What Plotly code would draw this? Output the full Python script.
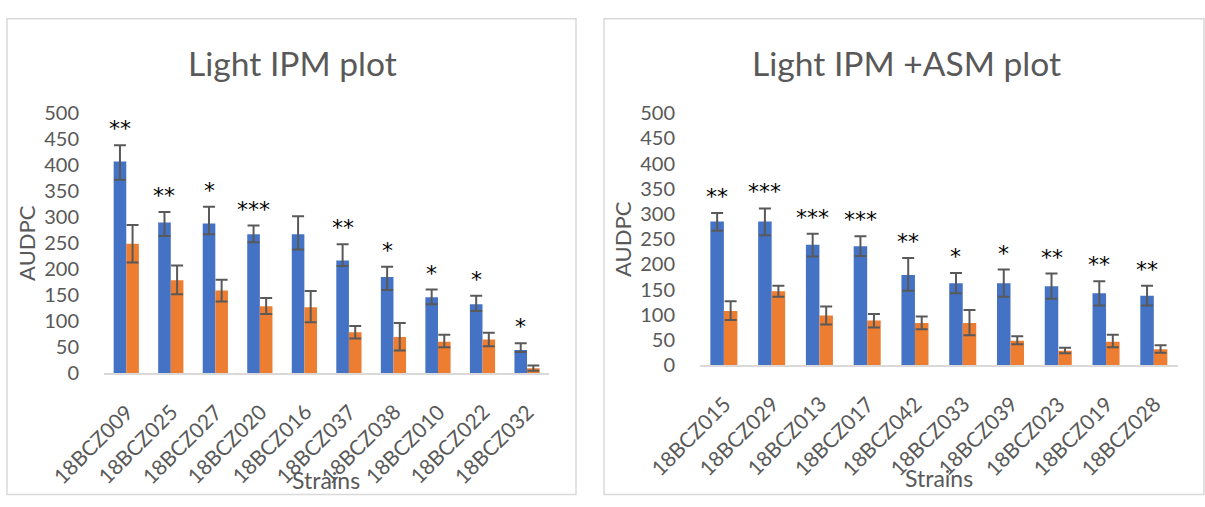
import plotly.graph_objects as go

# ---- data -------------------------------------------------------------
strains_ipm = ["18BCZ009", "18BCZ025", "18BCZ027", "18BCZ020", "18BCZ016",
               "18BCZ037", "18BCZ038", "18BCZ010", "18BCZ022", "18BCZ032"]
ipm_blue = [407, 290, 288, 267, 267, 217, 185, 146, 133, 45]
ipm_blue_plus = [31, 20, 32, 17, 35, 31, 20, 15, 16, 13]
ipm_blue_minus = [35, 26, 21, 15, 29, 11, 25, 13, 13, 4]
ipm_orange = [249, 179, 159, 129, 127, 79, 70, 61, 65, 10]
ipm_orange_plus = [36, 28, 21, 16, 31, 12, 27, 13, 13, 5]
ipm_orange_minus = [36, 27, 21, 15, 29, 12, 26, 11, 13, 5]
ipm_stars = ["**", "**", "*", "***", "", "**", "*", "*", "*", "*"]

strains_asm = ["18BCZ015", "18BCZ029", "18BCZ013", "18BCZ017", "18BCZ042",
               "18BCZ033", "18BCZ039", "18BCZ023", "18BCZ019", "18BCZ028"]
asm_blue = [285, 285, 239, 236, 179, 163, 163, 157, 143, 138]
asm_blue_plus = [17, 26, 22, 20, 34, 20, 27, 25, 24, 20]
asm_blue_minus = [18, 27, 23, 19, 31, 20, 27, 25, 24, 19]
asm_orange = [108, 147, 99, 89, 84, 84, 49, 29, 47, 32]
asm_orange_plus = [19, 11, 18, 13, 13, 26, 9, 6, 14, 8]
asm_orange_minus = [18, 11, 18, 14, 12, 24, 7, 5, 11, 7]
asm_stars = ["**", "***", "***", "***", "**", "*", "*", "**", "**", "**"]

y_ticks = list(range(0, 501, 50))

# ---- styling ----------------------------------------------------------
W, H = 1205, 507
BLUE = "#4472C4"
ORANGE = "#ED7D31"
TEXT = "#595959"
FRAME = "#D9D9D9"
FONT = "Lato"
BAR_W = 0.283


def px_x(v):
    return v / W


def px_y(v):
    return 1 - v / H


fig = go.Figure()


def add_panel(n, strains, blue, bp, bm, orange, op, om, stars):
    xa = "x" if n == 1 else f"x{n}"
    ya = "y" if n == 1 else f"y{n}"
    idx = list(range(len(strains)))
    err_style = dict(type="data", symmetric=False, color=TEXT, thickness=2, width=6)
    fig.add_trace(go.Bar(
        x=[i - BAR_W / 2 for i in idx], y=blue, width=BAR_W,
        marker=dict(color=BLUE, line=dict(width=0)),
        error_y=dict(array=bp, arrayminus=bm, **err_style),
        xaxis=xa, yaxis=ya, showlegend=False))
    fig.add_trace(go.Bar(
        x=[i + BAR_W / 2 for i in idx], y=orange, width=BAR_W,
        marker=dict(color=ORANGE, line=dict(width=0)),
        error_y=dict(array=op, arrayminus=om, **err_style),
        xaxis=xa, yaxis=ya, showlegend=False))
    # significance marks above the blue bars
    for i, s in enumerate(stars):
        if not s:
            continue
        fig.add_annotation(
            x=i - BAR_W / 2, y=blue[i] + bp[i], xref=xa, yref=ya,
            text=s, showarrow=False, yanchor="bottom", yshift=2,
            font=dict(family="DejaVu Sans", size=22, color="black"))
    # slanted category labels under the axis
    for i, name in enumerate(strains):
        fig.add_annotation(
            x=i, y=0, xref=xa, yref=ya, text=name, showarrow=False,
            textangle=-45, xanchor="right", yanchor="top",
            xshift=14, yshift=-23,
            font=dict(family=FONT, size=21, color=TEXT))


add_panel(1, strains_ipm, ipm_blue, ipm_blue_plus, ipm_blue_minus,
          ipm_orange, ipm_orange_plus, ipm_orange_minus, ipm_stars)
add_panel(2, strains_asm, asm_blue, asm_blue_plus, asm_blue_minus,
          asm_orange, asm_orange_plus, asm_orange_minus, asm_stars)

xaxis_common = dict(
    range=[-0.5, 9.5], showticklabels=False, showline=True,
    linecolor=FRAME, linewidth=1.5, showgrid=False, zeroline=False,
    ticks="", fixedrange=True)
yaxis_common = dict(
    range=[0, 500], tickmode="array", tickvals=y_ticks,
    showline=False, showgrid=False, zeroline=False,
    ticks="outside", ticklen=20, tickcolor="rgba(0,0,0,0)",
    tickfont=dict(family=FONT, size=20, color=TEXT),
    title=dict(text="AUDPC", standoff=2,
               font=dict(family=FONT, size=22, color=TEXT)),
    fixedrange=True)

fig.update_layout(
    width=W, height=H, margin=dict(l=0, r=0, t=0, b=0),
    paper_bgcolor="white", plot_bgcolor="white",
    barmode="overlay",
    xaxis=dict(domain=[px_x(104), px_x(549.3)], anchor="y", **xaxis_common),
    yaxis=dict(domain=[px_y(378.3), px_y(105)], anchor="x", **yaxis_common),
    xaxis2=dict(domain=[px_x(700), px_x(1177.7)], anchor="y2", **xaxis_common),
    yaxis2=dict(domain=[px_y(370), px_y(105)], anchor="x2", **yaxis_common),
)

# chart frames
for x0, x1 in [(7, 576), (604, 1204)]:
    fig.add_shape(type="rect", xref="paper", yref="paper",
                  x0=px_x(x0), x1=px_x(x1), y0=px_y(505.5), y1=px_y(6),
                  line=dict(color=FRAME, width=1.5), fillcolor="rgba(0,0,0,0)",
                  layer="below")

# chart titles and x-axis titles
labels = [
    ("Light IPM plot", 292.8, 52, 33.6),
    ("Light IPM +ASM plot", 906, 52, 33.6),
    ("Strains", 326, 490, 23),
    ("Strains", 939, 488, 23),
]
for t, x, y, size in labels:
    fig.add_annotation(text=t, x=px_x(x), y=px_y(y), xref="paper", yref="paper",
                       showarrow=False, xanchor="center", yanchor="middle",
                       font=dict(family=FONT, size=size, color=TEXT))

fig.write_html("out.html")
